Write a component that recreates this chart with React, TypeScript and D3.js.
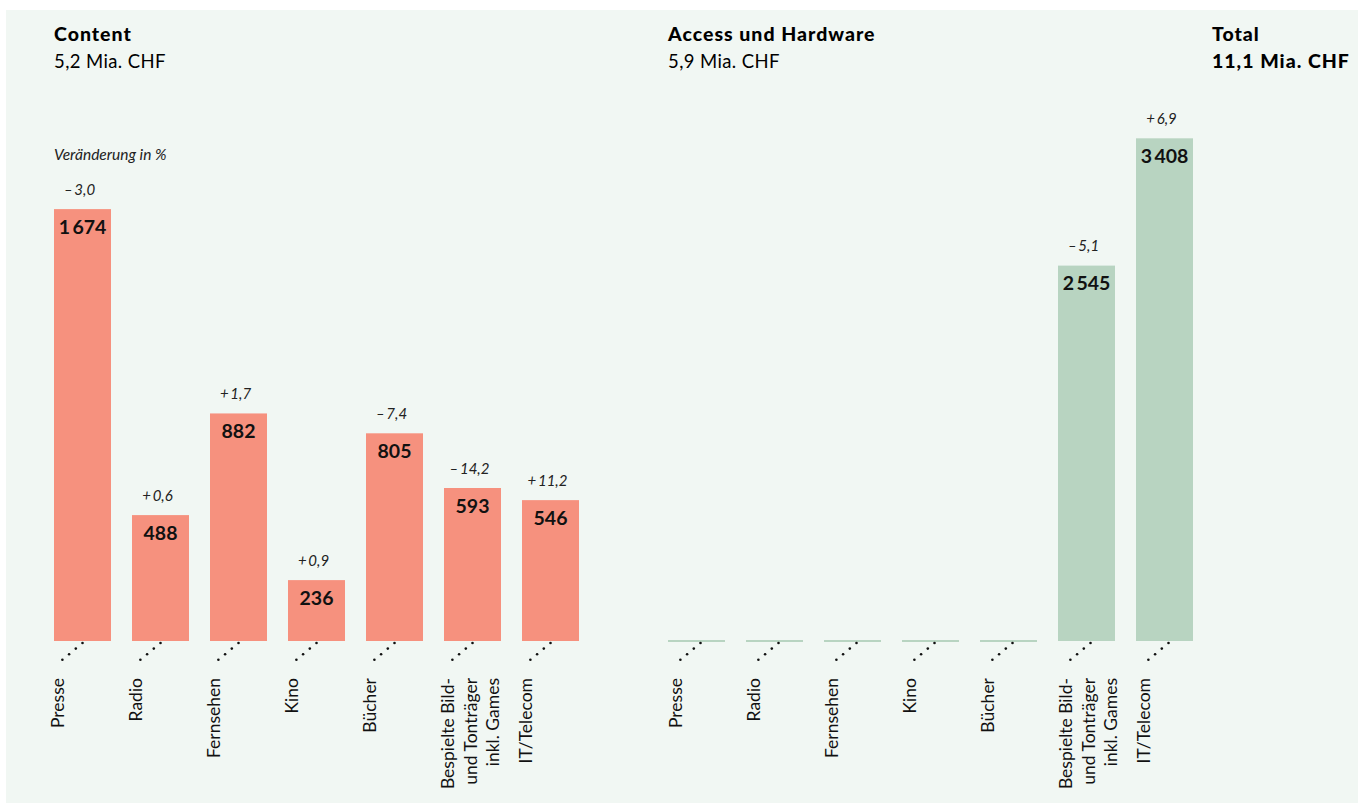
import React from "react";
import * as d3 from "d3";

const categories = [
  "Presse",
  "Radio",
  "Fernsehen",
  "Kino",
  "Bücher",
  "Bespielte Bild-|und Tonträger|inkl. Games",
  "IT/Telecom",
];
const contentValues = [1674, 488, 882, 236, 805, 593, 546];
const contentChanges: (number | null)[] = [-3.0, 0.6, 1.7, 0.9, -7.4, -14.2, 11.2];
const accessValues = [0, 0, 0, 0, 0, 2545, 3408];
const accessChanges: (number | null)[] = [null, null, null, null, null, -5.1, 6.9];
const groupTitles = ["Content", "Access und Hardware"];
const groupTotals = ["5,2 Mia. CHF", "5,9 Mia. CHF"];
const totalTitle = "Total";
const totalValue = "11,1 Mia. CHF";
const changeNote = "Veränderung in %";

const W = 1358;
const H = 804;
const BASE = 641;
const FONT = "Lato, 'Open Sans', sans-serif";
const BG = "#f1f7f3";
const SALMON = "#f6917e";
const GREEN = "#b8d4c1";

const loc = d3.formatLocale({
  decimal: ",",
  thousands: "\u2009",
  grouping: [3],
  currency: ["", ""],
});
const fmtVal = loc.format(",d");
const fmtChg = loc.format(".1f");
const chgText = (c: number) => `${c < 0 ? "–" : "+"}\u2009${fmtChg(Math.abs(c))}`;

type GroupProps = {
  x0: number;
  values: number[];
  changes: (number | null)[];
  yMax: number;
  yTop: number;
  color: string;
  shift: number;
};

function Group({ x0, values, changes, yMax, yTop, color, shift }: GroupProps) {
  const x = d3
    .scaleBand<string>()
    .domain(categories)
    .range([x0, x0 + 78 * 7 - 21])
    .paddingInner(21 / 78)
    .paddingOuter(0);
  const y = d3.scaleLinear().domain([0, yMax]).range([BASE, yTop]);
  const bw = x.bandwidth();
  return (
    <g>
      {categories.map((c, i) => {
        const bx = x(c)!;
        const v = values[i];
        const top = v > 0 ? y(v) : BASE - 1;
        const h = v > 0 ? BASE - y(v) : 2;
        const ch = changes[i];
        const lines = c.split("|");
        const dots = d3.range(4).map((k) => ({
          cx: bx + 28.5 + shift - k * 6.7,
          cy: 643 + k * 5.6,
        }));
        return (
          <g key={c}>
            <rect x={bx} y={top} width={bw} height={h} fill={color} />
            {v > 0 && (
              <text
                x={bx + bw / 2}
                y={top + 24.5}
                textAnchor="middle"
                fontFamily={FONT}
                fontWeight={700}
                fontSize={19.5}
                fill="#111"
              >
                {fmtVal(v)}
              </text>
            )}
            {ch !== null && (
              <text
                x={bx + bw / 2 - 3}
                y={top - 14.5}
                textAnchor="middle"
                fontFamily={FONT}
                fontStyle="italic"
                fontSize={15}
                fill="#222"
              >
                {chgText(ch)}
              </text>
            )}
            {dots.map((d, k) => (
              <circle key={k} cx={d.cx} cy={d.cy} r={1.3} fill="#111" />
            ))}
            {lines.map((ln, li) => (
              <text
                key={li}
                transform={`translate(${bx + shift + 10 + li * 22.5},678) rotate(-90)`}
                textAnchor="end"
                fontFamily={FONT}
                fontSize={17.5}
                fill="#111"
              >
                {ln}
              </text>
            ))}
          </g>
        );
      })}
    </g>
  );
}

export default function App() {
  return (
    <svg
      width={W}
      height={H}
      style={{ position: "absolute", left: 0, top: 0, display: "block" }}
    >
      <rect x={0} y={0} width={W} height={H} fill="#fff" />
      <rect x={6} y={10} width={W - 6} height={793} fill={BG} />
      {[54, 668].map((gx, gi) => (
        <g key={gi}>
          <text x={gx} y={41} fontFamily={FONT} fontWeight={900} fontSize={19.5} letterSpacing={1} fill="#000">
            {groupTitles[gi]}
          </text>
          <text x={gx} y={68} fontFamily={FONT} fontSize={18.5} letterSpacing={0.4} fill="#000">
            {groupTotals[gi]}
          </text>
        </g>
      ))}
      <text x={1212} y={41} fontFamily={FONT} fontWeight={900} fontSize={19.5} letterSpacing={1} fill="#000">
        {totalTitle}
      </text>
      <text x={1212} y={68} fontFamily={FONT} fontWeight={900} fontSize={19.5} letterSpacing={1} fill="#000">
        {totalValue}
      </text>
      <text x={54} y={160} fontFamily={FONT} fontStyle="italic" fontSize={15.5} fill="#222">
        {changeNote}
      </text>
      <Group x0={54} values={contentValues} changes={contentChanges} yMax={2000} yTop={125} color={SALMON} shift={0} />
      <Group x0={668} values={accessValues} changes={accessChanges} yMax={4000} yTop={51} color={GREEN} shift={4} />
    </svg>
  );
}
